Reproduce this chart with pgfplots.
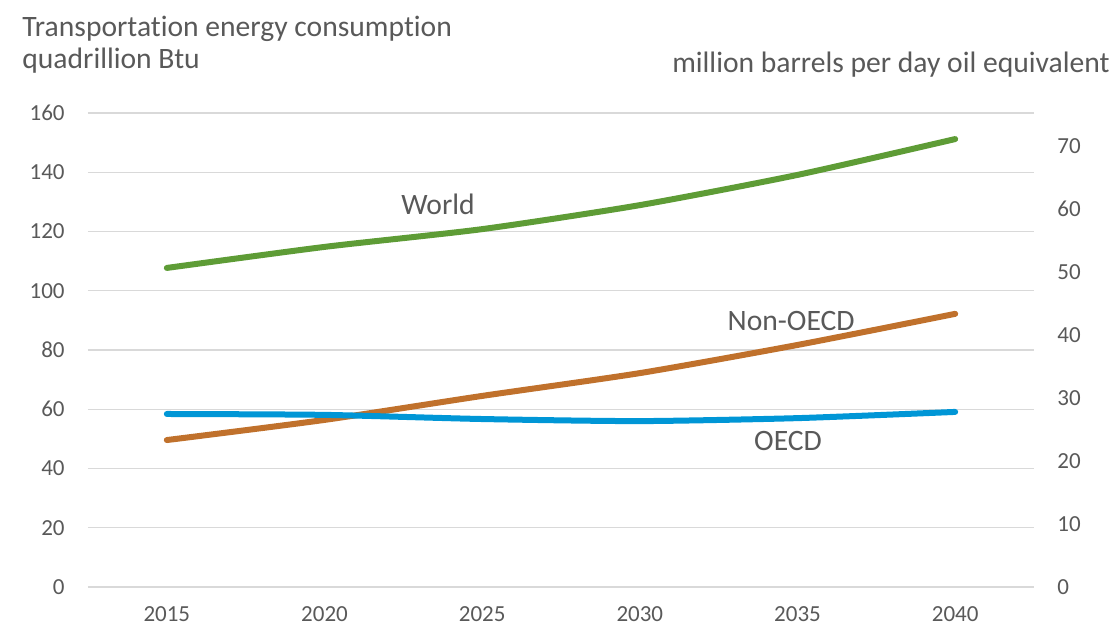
\documentclass[border=0pt]{standalone}
\usepackage{fontspec}
\setmainfont{Carlito}[Ligatures=NoCommon]
\usepackage{pgfplots}
\pgfplotsset{compat=1.18}
\definecolor{txt}{HTML}{595959}
\definecolor{gridc}{HTML}{D9D9D9}
\definecolor{world}{HTML}{5E9C36}
\definecolor{oecd}{HTML}{0096D6}
\definecolor{nonoecd}{HTML}{C0712C}

\pgfplotstableread{
year world nonoecd oecd
2015 107.7 49.6 58.4
2020 114.8 56.4 58.1
2025 120.8 64.5 56.7
2030 128.9 72.2 56.0
2035 139.1 81.7 57.0
2040 151.2 92.2 59.1
}\transport

\begin{document}
\begin{tikzpicture}
\path[use as bounding box] (-44pt,-20pt) rectangle (514pt,293.5pt);
\pgfplotsset{
  base/.style={
    scale only axis, width=473pt, height=237pt,
    at={(0,0)}, anchor=south west,
    xmin=2012.5, xmax=2042.5,
    axis line style={draw=none}, tick style={draw=none},
    ticklabel style={font=\fontsize{11.5}{13}\selectfont, text=txt, inner sep=0pt,
      /pgf/number format/assume math mode=true},
  }
}
\begin{axis}[base,
    ymin=0, ymax=160, ytick={0,20,...,160},
    xtick={2015,2020,...,2040},
    xticklabel style={/pgf/number format/1000 sep={}, anchor=north, yshift=-9.5pt},
    yticklabel style={anchor=east, xshift=-11.5pt},
    ymajorgrids, grid style={gridc, line width=0.6pt},
    every axis plot/.append style={line width=3pt, line cap=round, smooth, tension=0.4},
]
\addplot[world] table[x=year, y=world] {\transport};
\addplot[nonoecd] table[x=year, y=nonoecd] {\transport};
\addplot[oecd] table[x=year, y=oecd] {\transport};
\node[text=txt, font=\fontsize{14.8}{17}\selectfont] at (axis cs:2023.6,129.3) {World};
\node[text=txt, font=\fontsize{14.8}{17}\selectfont] at (axis cs:2034.8,89.8) {Non-OECD};
\node[text=txt, font=\fontsize{14.8}{17}\selectfont] at (axis cs:2034.7,49.3) {OECD};
\end{axis}
\begin{axis}[base,
    ymin=0, ymax=75.24, ytick={0,10,...,70},
    axis y line*=right, hide x axis,
    yticklabel style={anchor=west, xshift=11.5pt},
]
\end{axis}
\node[anchor=base west, inner sep=0pt, text=txt, font=\fontsize{14.8}{17}\selectfont] at (-33pt,275pt) {Transportation energy consumption};
\node[anchor=base west, inner sep=0pt, text=txt, font=\fontsize{14.8}{17}\selectfont] at (-33pt,259pt) {quadrillion Btu};
\node[anchor=base east, inner sep=0pt, text=txt, font=\fontsize{14.8}{17}\selectfont] at (511pt,257pt) {million barrels per day oil equivalent};
\end{tikzpicture}
\end{document}
